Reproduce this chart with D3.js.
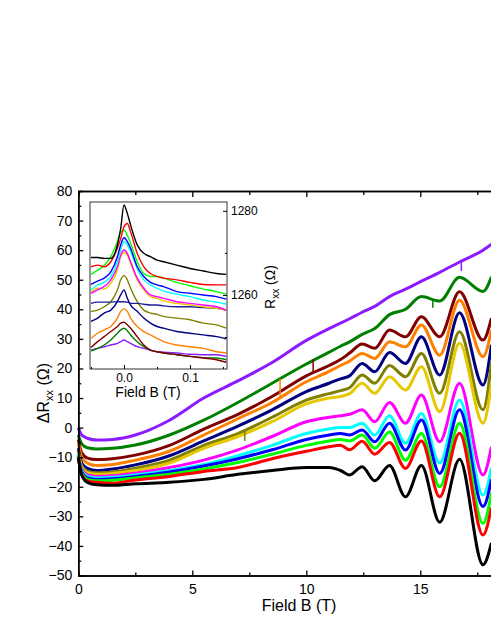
<!DOCTYPE html>
<html>
<head>
<meta charset="utf-8">
<script src="https://cdn.jsdelivr.net/npm/d3@7"></script>
<style>
    body { margin: 0; background: white; }
    svg { display: block; font-family: Arial, 'Liberation Sans', sans-serif; }
</style>
</head>
<body>
<div class="chart"></div>
<script>
const width = 491;
const height = 635;

// main panel: field grid (T) and delta R_xx (ohm) per trace, top to bottom
const fieldB = [0, 0.15, 0.4, 0.8, 1.5, 2.5, 4, 5.5, 7, 8.5, 10, 11, 11.5, 11.9, 12.45, 13.0, 13.65, 14.35, 15.05, 15.85, 16.72, 17.75, 18.12];

const rPurple = [0, -2.5, -3.6, -4.2, -4, -2.5, 2.5, 10, 15.8, 22, 29.5, 33.5, 35.3, 36.8, 39, 41, 44.3, 46.8, 49.5, 52.5, 56, 60, 62];
const rGreen = [-2.5, -5.5, -6.8, -7.2, -7, -5.9, -2.5, 2.5, 8.5, 15, 21.5, 25.5, 27.5, 29, 31.5, 33.5, 38.2, 40, 44.3, 42.8, 50.8, 46, 51];
const rWine = [-4, -8.5, -10.3, -10.8, -10.5, -9.3, -6, -0.5, 4.5, 10.5, 17.5, 21, 23, 25.2, 28.3, 26.8, 33, 30.7, 37.5, 30.7, 45.9, 29.6, 37];
const rOrange = [-5, -10, -12, -12.8, -12.5, -11, -8, -2.5, 3, 8.5, 15.5, 19, 21, 22.5, 25.1, 23.4, 29, 27.3, 34.7, 24.5, 43.1, 24, 33];
const rNavy = [-7, -12, -13.8, -14.5, -14, -12.6, -9.5, -4.5, 0.5, 6, 12.2, 15, 16.5, 17.5, 21.7, 18.9, 25.4, 21.7, 30.7, 17.8, 38.8, 14.4, 28];
const rOlive = [-8, -13, -14.8, -15.3, -15, -13.7, -11, -6, -2, 3.5, 9.3, 11.5, 12.5, 13.5, 17.8, 15, 21, 17.2, 25.1, 11.6, 32.4, 6, 22];
const rYellow = [-8.5, -13.5, -15.3, -15.8, -15.5, -14.5, -12, -7, -3, 2, 8, 10, 10.5, 11.5, 15, 11.6, 17.2, 12.7, 20.6, 5.4, 28.5, 1.5, 15];
const rMagenta = [-9, -14, -16, -16.5, -16.3, -15.4, -13.5, -11, -7.5, -3, 2, 3.5, 4, 4.5, 6, 2, 8.5, 1.5, 11, -4.8, 15, -16, -6.5];
const rCyan = [-9, -14.5, -16.5, -17, -16.8, -16, -14.5, -12.5, -9.5, -6, -2, -0.5, 0, 0, 1.5, -2.5, 4, -5.3, 4.8, -12, 9.3, -22.8, -13.5];
const rBlue = [-9.5, -15, -17, -17.5, -17.3, -16.5, -15, -13, -10.5, -7.5, -4, -2.5, -2, -2.5, -0.8, -4.8, 1.5, -7.6, 2.6, -15.5, 6, -26.7, -17.5];
const rLime = [-9.5, -15.5, -17.5, -18, -17.8, -17, -15.8, -14, -11.8, -9, -6, -4.5, -4, -4.5, -2.5, -7, -1.5, -11, -2, -20, 1.5, -32.4, -22];
const rRed = [-10, -16, -18, -18.5, -18.8, -17.7, -16.5, -14.8, -13.5, -10.5, -8, -6.5, -6, -7.5, -4.6, -9, -5, -13.8, -4.5, -23.4, -1.9, -36.3, -27];
const rBlack = [-10, -16, -18.5, -19.3, -19.5, -19, -18.5, -17.5, -15.8, -14.5, -13.5, -13.5, -14.5, -16, -13.2, -18, -12.8, -23.4, -12.8, -32, -10.7, -46.4, -39];

// single-point glitches seen on some traces: field, from, to
const glitchB = [8.85, 10.3, 15.55, 16.8, 7.3];
const glitchFrom = [10, 18.5, 43.5, 56.5, -1];
const glitchTo = [16.5, 23, 40.5, 53, -4.5];
const glitchColor = ['#ff8000', '#800000', '#008000', '#8a1cff', '#808000'];

const xTicks = [0, 5, 10, 15];
const xMinorTicks = [2.5, 7.5, 12.5, 17.5];
const yTicks = [-50, -40, -30, -20, -10, 0, 10, 20, 30, 40, 50, 60, 70, 80];
const yMinorTicks = [-45, -35, -25, -15, -5, 5, 15, 25, 35, 45, 55, 65, 75];

// inset: R_xx (ohm) around zero field
const insetB = [-0.05, -0.04, -0.03, -0.02, -0.01, -0.005, 0, 0.005, 0.01, 0.02, 0.03, 0.04, 0.05, 0.06, 0.08, 0.1, 0.12, 0.14, 0.155];

const iBlack = [1268.9, 1268.9, 1268.7, 1268.7, 1271.9, 1275.8, 1281.4, 1279.4, 1276.6, 1271.9, 1269.9, 1269.1, 1268.3, 1267.9, 1267.1, 1266.3, 1265.7, 1265.1, 1264.9];
const iRed = [1266.7, 1267.1, 1266.7, 1267.9, 1271.1, 1273.4, 1276.2, 1277.0, 1275.0, 1269.9, 1266.7, 1265.1, 1264.4, 1264.0, 1263.6, 1263.0, 1262.5, 1262.4, 1262.4];
const iLime = [1264.9, 1265.9, 1267.0, 1269.1, 1272.7, 1275.0, 1275.4, 1274.2, 1272.3, 1267.9, 1265.1, 1264.4, 1264.4, 1264.0, 1263.0, 1262.2, 1261.4, 1260.8, 1260.2];
const iBlue = [1262.5, 1263.3, 1264.0, 1265.5, 1269.1, 1271.9, 1273.6, 1272.7, 1271.1, 1266.7, 1264.4, 1263.0, 1262.4, 1262.0, 1260.8, 1260.4, 1260.0, 1259.6, 1259.0];
const iCyan = [1261.2, 1262.4, 1263.0, 1264.4, 1267.9, 1270.7, 1272.7, 1271.9, 1270.3, 1266.3, 1263.6, 1262.4, 1261.6, 1260.9, 1260.2, 1259.6, 1258.8, 1258.3, 1257.8];
const iMagenta = [1260.4, 1261.2, 1262.0, 1263.6, 1266.7, 1269.5, 1270.7, 1269.9, 1267.9, 1264.0, 1261.6, 1260.0, 1259.6, 1259.2, 1258.4, 1258.0, 1257.6, 1257.2, 1256.4];
const iYellow = [1260.6, 1261.6, 1261.4, 1262.8, 1265.9, 1269.1, 1270.1, 1269.5, 1267.5, 1263.6, 1261.2, 1259.6, 1259.2, 1258.6, 1258.0, 1257.6, 1257.2, 1256.8, 1256.4];
const iFlat = [1258.0, 1258.3, 1258.3, 1258.3, 1258.4, 1258.4, 1258.4, 1258.3, 1258.0, 1258.0, 1257.8, 1257.6, 1257.6, 1257.4, 1257.2, 1257.2, 1257.0, 1256.8, 1256.4];
const iOlive = [1256.1, 1256.4, 1257.2, 1258.4, 1261.2, 1263.6, 1264.6, 1263.6, 1261.6, 1258.4, 1256.4, 1255.7, 1255.4, 1254.9, 1254.5, 1254.1, 1253.3, 1252.9, 1252.1];
const iNavy = [1253.7, 1254.5, 1255.7, 1256.4, 1258.4, 1260.0, 1261.2, 1259.2, 1257.6, 1256.1, 1254.5, 1253.3, 1252.5, 1252.1, 1251.3, 1250.9, 1250.5, 1250.1, 1249.6];
const iOrange = [1249.7, 1250.9, 1251.7, 1252.5, 1254.5, 1256.1, 1256.7, 1256.1, 1254.5, 1252.5, 1251.3, 1250.5, 1249.7, 1248.9, 1248.1, 1247.7, 1247.3, 1246.5, 1246.2];
const iWine = [1247.5, 1248.9, 1250.1, 1251.3, 1252.5, 1253.3, 1253.5, 1252.9, 1252.1, 1250.1, 1248.1, 1246.9, 1246.5, 1246.2, 1245.8, 1245.4, 1245.0, 1244.6, 1244.0];
const iGreen = [1246.7, 1247.3, 1248.1, 1249.3, 1250.9, 1251.7, 1252.1, 1251.5, 1250.5, 1248.9, 1247.7, 1246.9, 1246.5, 1246.2, 1245.8, 1245.4, 1245.1, 1245.0, 1244.6];
const iPurple = [1246.9, 1247.3, 1247.7, 1248.1, 1248.5, 1248.9, 1249.3, 1248.9, 1248.5, 1247.7, 1247.3, 1246.9, 1246.5, 1246.4, 1246.2, 1245.9, 1245.8, 1245.8, 1245.4];

const insetXTicks = [0, 0.1];
const insetXMinor = [-0.05, 0.05, 0.15];
const insetYTicks = [1260, 1280];
const insetYMinor = [1250, 1270];

const mainSeries = [
    { values: rPurple, color: '#8a1cff' },
    { values: rGreen, color: '#008000' },
    { values: rWine, color: '#800000' },
    { values: rOrange, color: '#ff8000' },
    { values: rNavy, color: '#000080' },
    { values: rOlive, color: '#808000' },
    { values: rYellow, color: '#e6c800' },
    { values: rMagenta, color: '#ff00ff' },
    { values: rCyan, color: '#00ffff' },
    { values: rBlue, color: '#0000ff' },
    { values: rLime, color: '#00ff00' },
    { values: rRed, color: '#ff0000' },
    { values: rBlack, color: '#000000' },
];

const insetSeries = [
    { values: iPurple, color: '#8a1cff' },
    { values: iGreen, color: '#008000' },
    { values: iWine, color: '#800000' },
    { values: iOrange, color: '#ff8000' },
    { values: iNavy, color: '#000080' },
    { values: iOlive, color: '#808000' },
    { values: iFlat, color: '#20209a' },
    { values: iYellow, color: '#e6c800' },
    { values: iMagenta, color: '#ff00ff' },
    { values: iCyan, color: '#00ffff' },
    { values: iBlue, color: '#0000ff' },
    { values: iLime, color: '#00ff00' },
    { values: iRed, color: '#ff0000' },
    { values: iBlack, color: '#000000' },
];

const svg = d3
    .select('.chart')
    .append('svg')
    .attr('width', width)
    .attr('height', height)
    .style('background-color', 'white');

// main panel (right part of the frame falls outside the picture)
const x = d3.scaleLinear().domain([0, 20]).range([78.3, 534.3]);
const y = d3.scaleLinear().domain([-50, 80]).range([575.5, 191]);

const line = d3
    .line()
    .x((d) => x(d[0]))
    .y((d) => y(d[1]))
    .curve(d3.curveMonotoneX);

svg.append('g')
    .selectAll('path')
    .data(mainSeries)
    .enter()
    .append('path')
    .attr('fill', 'none')
    .attr('stroke', (d) => d.color)
    .attr('stroke-width', 3)
    .attr('stroke-linejoin', 'round')
    .attr('d', (d) => line(fieldB.map((b, i) => [b, d.values[i]])));

svg.append('g')
    .selectAll('line')
    .data(glitchB)
    .enter()
    .append('line')
    .attr('x1', (d) => x(d))
    .attr('x2', (d) => x(d))
    .attr('y1', (d, i) => y(glitchFrom[i]))
    .attr('y2', (d, i) => y(glitchTo[i]))
    .attr('stroke', (d, i) => glitchColor[i])
    .attr('stroke-width', 1.5);

function styleAxis(g) {
    g.select('.domain').attr('stroke', '#000').attr('stroke-width', 1.5);
    g.selectAll('.tick line').attr('stroke', '#000').attr('stroke-width', 1.3);
    g.selectAll('.tick text').attr('fill', '#000');
}

svg.append('g')
    .attr('transform', `translate(0, ${y(-50)})`)
    .call(d3.axisBottom(x).tickValues(xMinorTicks).tickSize(-3).tickFormat(''))
    .call(styleAxis);

svg.append('g')
    .attr('transform', `translate(0, ${y(-50)})`)
    .call(
        d3.axisBottom(x).tickValues(xTicks).tickSize(-5).tickSizeOuter(0).tickPadding(9)
    )
    .call(styleAxis)
    .selectAll('text')
    .attr('font-size', 14)
    .attr('font-family', 'Arial, Liberation Sans, sans-serif');

svg.append('g')
    .attr('transform', `translate(0, ${y(80)})`)
    .call(d3.axisTop(x).tickValues(xMinorTicks).tickSize(-4).tickFormat(''))
    .call(styleAxis);

svg.append('g')
    .attr('transform', `translate(0, ${y(80)})`)
    .call(d3.axisTop(x).tickValues(xTicks).tickSize(-6).tickSizeOuter(0).tickFormat(''))
    .call(styleAxis);

svg.append('g')
    .attr('transform', `translate(${x(0)}, 0)`)
    .call(d3.axisLeft(y).tickValues(yMinorTicks).tickSize(-3).tickFormat(''))
    .call(styleAxis);

svg.append('g')
    .attr('transform', `translate(${x(0)}, 0)`)
    .call(d3.axisLeft(y).tickValues(yTicks).tickSize(-5).tickSizeOuter(0).tickPadding(6))
    .call(styleAxis)
    .selectAll('text')
    .attr('font-size', 14)
    .attr('font-family', 'Arial, Liberation Sans, sans-serif');

svg.append('text')
    .attr('x', 299)
    .attr('y', 611)
    .attr('text-anchor', 'middle')
    .attr('font-size', 16)
    .text('Field B (T)');

const yTitle = svg
    .append('text')
    .attr('transform', 'translate(49, 393) rotate(-90)')
    .attr('text-anchor', 'middle')
    .attr('font-size', 16);
yTitle.append('tspan').text('\u0394R');
yTitle.append('tspan').attr('font-size', 11).attr('dy', 4).text('xx');
yTitle.append('tspan').attr('dy', -4).text(' (\u03a9)');

// inset panel
const ix = d3.scaleLinear().domain([-0.0515, 0.156]).range([90, 227]);
const iy = d3.scaleLinear().domain([1242.4, 1282.1]).range([369, 202]);

const inset = svg.append('g');

inset
    .append('rect')
    .attr('x', 90)
    .attr('y', 202)
    .attr('width', 137)
    .attr('height', 167)
    .attr('fill', 'white');

const iline = d3
    .line()
    .x((d) => ix(d[0]))
    .y((d) => iy(d[1]))
    .curve(d3.curveMonotoneX);

inset
    .append('g')
    .selectAll('path')
    .data(insetSeries)
    .enter()
    .append('path')
    .attr('fill', 'none')
    .attr('stroke', (d) => d.color)
    .attr('stroke-width', 1.4)
    .attr('d', (d) => iline(insetB.map((b, i) => [b, d.values[i]])));

inset
    .append('rect')
    .attr('x', 90)
    .attr('y', 202)
    .attr('width', 137)
    .attr('height', 167)
    .attr('fill', 'none')
    .attr('stroke', '#333')
    .attr('stroke-width', 1);

inset
    .append('g')
    .attr('transform', 'translate(0, 369)')
    .call(d3.axisBottom(ix).tickValues(insetXMinor).tickSize(-2).tickFormat(''))
    .call((g) => g.select('.domain').remove());

inset
    .append('g')
    .attr('transform', 'translate(0, 369)')
    .call(
        d3.axisBottom(ix).tickValues(insetXTicks).tickSize(-4).tickPadding(4).tickFormat(d3.format('.1f'))
    )
    .call((g) => g.select('.domain').remove())
    .selectAll('text')
    .attr('font-size', 12)
    .attr('font-family', 'Arial, Liberation Sans, sans-serif');

inset
    .append('g')
    .attr('transform', 'translate(227, 0)')
    .call(d3.axisRight(iy).tickValues(insetYMinor).tickSize(-2).tickFormat(''))
    .call((g) => g.select('.domain').remove());

inset
    .append('g')
    .attr('transform', 'translate(227, 0)')
    .call(d3.axisRight(iy).tickValues(insetYTicks).tickSize(-4).tickPadding(4).tickFormat(d3.format('d')))
    .call((g) => g.select('.domain').remove())
    .selectAll('text')
    .attr('font-size', 12)
    .attr('font-family', 'Arial, Liberation Sans, sans-serif');

inset
    .append('text')
    .attr('x', 148)
    .attr('y', 397)
    .attr('text-anchor', 'middle')
    .attr('font-size', 14)
    .text('Field B (T)');

const iTitle = inset
    .append('text')
    .attr('transform', 'translate(275, 287) rotate(-90)')
    .attr('text-anchor', 'middle')
    .attr('font-size', 14);
iTitle.append('tspan').text('R');
iTitle.append('tspan').attr('font-size', 10).attr('dy', 4).text('xx');
iTitle.append('tspan').attr('dy', -4).text(' (\u03a9)');
</script>
</body>
</html>
